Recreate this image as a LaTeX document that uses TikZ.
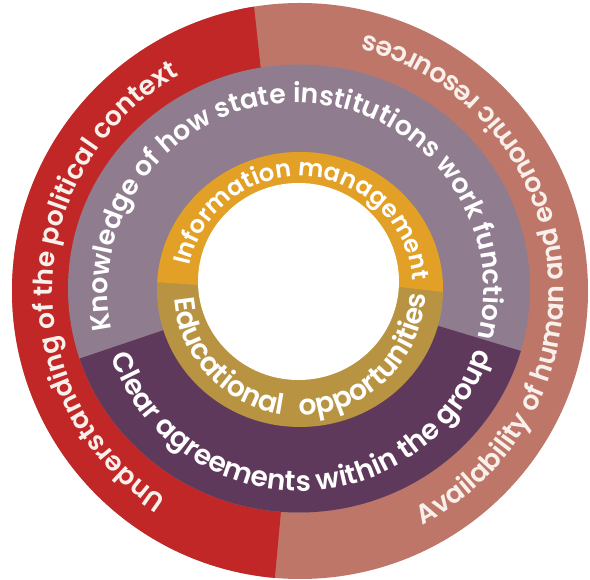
\documentclass[tikz,border=0pt]{standalone}
\usepackage{fontspec}
\setmainfont{Poppins}[UprightFont={* SemiBold}]
\usetikzlibrary{decorations.text}
\definecolor{cRed}{RGB}{193,39,38}
\definecolor{cSalmon}{RGB}{190,118,104}
\definecolor{cLav}{RGB}{143,125,143}
\definecolor{cPlum}{RGB}{95,57,91}
\definecolor{cOrange}{RGB}{226,160,38}
\definecolor{cOlive}{RGB}{184,147,66}
\definecolor{cCream}{RGB}{250,240,235}
\newlength\arcw
\newcommand\fitsz[3]{\settowidth{\arcw}{\fontsize{20pt}{20pt}\selectfont #3}\pgfmathsetmacro#1{1.04*20*#2/\the\arcw}}
\tikzset{
  ringtext/.style={decorate, decoration={text along path, text align=center, text={#1}}}
}
\begin{document}
\fitsz{\sA}{489.3}{Understanding of the political context}%
\fitsz{\sB}{611.9}{Availability of human and economic resources}%
\fitsz{\sC}{651.3}{Knowledge of how state institutions work function}%
\fitsz{\sD}{478.9}{Clear agreements within the group}%
\fitsz{\sE}{310.2}{Information management}%
\fitsz{\sF}{368.0}{Educational\hspace{0.6em}opportunities}%
\begin{tikzpicture}[x=1pt,y=1pt]
\useasboundingbox (0,0) rectangle (590,580);
\fill[white] (0,0) rectangle (590,580);
% outer ring
\begin{scope}
  \clip (300,289) circle[radius=288];
  \fill[cSalmon] (0,0) rectangle (590,580);
  \fill[cRed] (249,620) -- (262,500) -- (283,289) -- (282,80) -- (271,-40) -- (-50,-40) -- (-50,620) -- cycle;
\end{scope}
% purple ring
\begin{scope}
  \clip (299,291.5) ellipse[x radius=231, y radius=224];
  \fill[cLav] (0,0) rectangle (590,580);
  \fill[cPlum] (-40,181) -- (300,296) -- (640,193) -- (640,-40) -- (-40,-40) -- cycle;
\end{scope}
% gold ring
\begin{scope}
  \clip (300,290.5) ellipse[x radius=143, y radius=137.5];
  \fill[cOlive] (0,0) rectangle (590,580);
  \fill[cOrange] (140,299) -- (198,295) -- (300,294) -- (400,293) -- (460,286) -- (460,460) -- (140,460) -- cycle;
\end{scope}
\fill[white] (298.5,298.5) ellipse[x radius=100.5, y radius=98.5];
% texts
\path[ringtext={|\fontsize{\sA}{\sA}\selectfont\color{cCream}|Understanding of the political context}]
  (300,289) ++(245:247) arc[start angle=245, end angle=111.5, radius=247];
\path[ringtext={|\fontsize{\sB}{\sB}\selectfont\color{cCream}|Availability of human and economic resources}]
  (300,289) ++(-69.7:264) arc[start angle=-69.7, end angle=83.1, radius=264];
\path[ringtext={|\fontsize{\sC}{\sC}\selectfont\color{white}|Knowledge of how state institutions work function}]
  (296,289) ++(198:188) arc[start angle=198, end angle=-20.5, radius=188];
\path[ringtext={|\fontsize{\sD}{\sD}\selectfont\color{white}|Clear agreements within the group}]
  (300,289) ++(-168.2:200) arc[start angle=-168.2, end angle=-11, radius=200];
\path[ringtext={|\fontsize{\sE}{\sE}\selectfont\color{white}|Information management}]
  (300,290.5) ++(174.8:113) arc[start angle=174.8, end angle=-2.5, radius=113];
\path[ringtext={|\fontsize{\sF}{\sF}\selectfont\color{white}|Educational{\hspace{0.6em}}opportunities}]
  (300,290.5) ++(177.8:126) arc[start angle=177.8, end angle=364, radius=126];
\end{tikzpicture}
\end{document}
